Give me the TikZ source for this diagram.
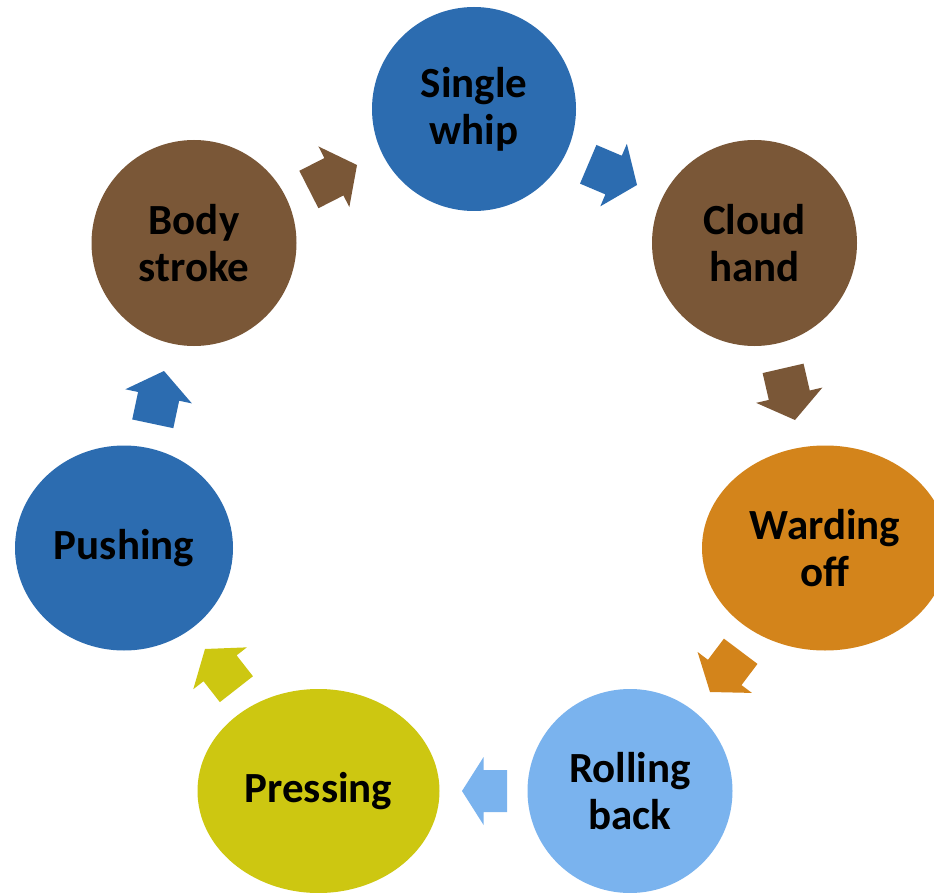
\documentclass[tikz,border=0pt]{standalone}
\usepackage{fontspec}
\setmainfont{Carlito}
\usetikzlibrary{shapes.geometric}
\definecolor{cblue}{RGB}{44,108,176}
\definecolor{cbrown}{RGB}{122,87,55}
\definecolor{corange}{RGB}{211,132,27}
\definecolor{clight}{RGB}{122,179,238}
\definecolor{cyellow}{RGB}{205,199,17}
\tikzset{
  stage/.style={ellipse, inner sep=0pt, align=center, text=black,
    font=\fontsize{43}{47}\selectfont\bfseries},
}
% block arrow: tip x, tip y, angle, length, colour
\newcommand{\blockarrow}[5]{%
  \begin{scope}[shift={(#1,#2)}, rotate=#3]
    \pgfmathsetmacro{\hl}{0.48*#4}
    \fill[#5] (0,0) -- (-\hl,34) -- (-\hl,21) -- (-#4,21) -- (-#4,-21) -- (-\hl,-21) -- (-\hl,-34) -- cycle;
  \end{scope}}
\begin{document}
\begin{tikzpicture}[x=1pt, y=-1pt]
\useasboundingbox (0,0) rectangle (934,893);
\clip (0,0) rectangle (934,893);
\fill[white] (0,0) rectangle (934,893);

\node[stage, fill=cblue,   minimum width=204, minimum height=204] (whip)  at (474,109) {Single\\whip};
\node[stage, fill=cbrown,  minimum width=205, minimum height=206] (cloud) at (754.5,243) {Cloud\\hand};
\node[stage, fill=corange, minimum width=246, minimum height=205] (ward)  at (825,548) {Warding\\off};
\node[stage, fill=clight,  minimum width=205, minimum height=204] (roll)  at (630,791) {Rolling\\back};
\node[stage, fill=cyellow, minimum width=242, minimum height=204] (press) at (318.5,791) {Pressing};
\node[stage, fill=cblue,   minimum width=218, minimum height=205] (push)  at (124,548) {Pushing};
\node[stage, fill=cbrown,  minimum width=205, minimum height=206] (body)  at (194,243) {Body\\stroke};

\blockarrow{357}{165}{27}{54}{cbrown}
\blockarrow{637}{185}{-23}{53}{cblue}
\blockarrow{795}{420}{-77}{53}{cbrown}
\blockarrow{710}{692}{-127}{51}{corange}
\blockarrow{462}{791}{180}{45}{clight}
\blockarrow{205}{649}{128}{51}{cyellow}
\blockarrow{164}{371}{78}{54}{cblue}
\end{tikzpicture}
\end{document}
